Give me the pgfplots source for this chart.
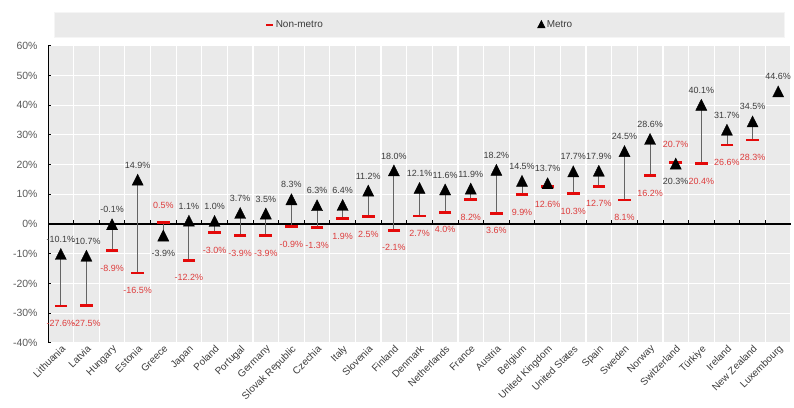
\documentclass[border=0pt]{standalone}
\usepackage{fontspec}
\setmainfont{Liberation Sans}
\usepackage{pgfplots}
\usepackage{pgfplotstable}
\pgfplotsset{compat=1.18}

\definecolor{panel}{RGB}{234,234,234}
\definecolor{legframe}{RGB}{245,245,245}
\definecolor{dashred}{RGB}{228,10,10}
\definecolor{labred}{RGB}{222,60,60}
\definecolor{labdark}{RGB}{60,60,60}
\definecolor{tickgray}{RGB}{89,89,89}
\definecolor{stem}{RGB}{100,100,100}

% growth by country: non-metro and metro regions (%), label anchors
\pgfplotstableread{
x  non    metro  ma     na
0  -27.6  -10.1  south  north
1  -27.5  -10.7  south  north
2  -8.9   -0.1   south  north
3  -16.5  14.9   south  north
4  0.5    -3.9   north  south
5  -12.2  1.1    south  north
6  -3.0   1.0    south  north
7  -3.9   3.7    south  north
8  -3.9   3.5    south  north
9  -0.9   8.3    south  north
10 -1.3   6.3    south  north
11 1.9    6.4    south  north
12 2.5    11.2   south  north
13 -2.1   18.0   south  north
14 2.7    12.1   south  north
15 4.0    11.6   south  north
16 8.2    11.9   south  north
17 3.6    18.2   south  north
18 9.9    14.5   south  north
19 12.6   13.7   south  north
20 10.3   17.7   south  north
21 12.7   17.9   south  north
22 8.1    24.5   south  north
23 16.2   28.6   south  north
24 20.7   20.3   north  south
25 20.4   40.1   south  north
26 26.6   31.7   south  north
27 28.3   34.5   south  north
28 nan    44.6   south  north
}\gap

\begin{document}
\begin{tikzpicture}
\begin{axis}[
  scale only axis,
  width=742.7bp, height=297bp,
  xmin=-0.5, xmax=28.5, ymin=-40, ymax=60,
  /pgf/number format/assume math mode=true,
  axis background/.style={fill=panel},
  axis line style={draw=none},
  xtick={0,...,28},
  xticklabels={Lithuania, Latvia, Hungary, Estonia, Greece, Japan, Poland, Portugal, Germany, Slovak Republic, Czechia, Italy, Slovenia, Finland, Denmark, Netherlands, France, Austria, Belgium, United Kingdom, United States, Spain, Sweden, Norway, Switzerland, Türkiye, Ireland, New Zealand, Luxembourg},
  xticklabel style={rotate=45, anchor=north east, font=\fontsize{10}{12}\selectfont, text=labdark, inner sep=1bp},
  xtick style={draw=none},
  minor xtick={-0.5,0.5,...,28.5},
  minor x tick style={draw=none},
  xminorgrids,
  ytick={-40,-30,...,60},
  yticklabel={\pgfmathprintnumber{\tick}\%},
  yticklabel style={font=\fontsize{10.5}{12}\selectfont, text=tickgray, xshift=-7bp},
  ytick pos=left,
  ytick style={black, line width=0.8bp},
  major tick length=3bp,
  ymajorgrids,
  major grid style={white, line width=1.2bp},
  minor grid style={white, line width=1.2bp},
  legend columns=2,
  legend style={at={(0.5,1)}, anchor=south, yshift=8bp,
    fill=panel, draw=legframe, line width=0.8bp,
    inner xsep=210.5bp, inner ysep=7bp,
    font=\fontsize{10}{12}\selectfont, text=labdark,
    nodes={inner sep=1.5bp},
    /tikz/every even column/.append style={column sep=213bp}},
]
% axis line and zero line with category ticks
\draw[black, line width=1.2bp] (axis cs:-0.5,-40) -- (axis cs:-0.5,60);
\draw[black, line width=1.3bp] (axis cs:-0.5,0) -- (axis cs:28.5,0);
\pgfplotsinvokeforeach{0.5,1.5,...,27.5}{
  \draw[black, line width=0.8bp] (axis cs:#1,0) -- ++(0bp,4bp);
}

\addlegendimage{legend image code/.code={\draw[dashred, line width=2bp] (0bp,0bp) -- (7bp,0bp);}}
\addlegendentry{Non-metro}
\addlegendimage{legend image code/.code={\fill[black] (0bp,-3bp) -- (7bp,-3bp) -- (3.5bp,3.8bp) -- cycle;}}
\addlegendentry{Metro}

% stems joining metro and non-metro values
\addplot[forget plot, draw=none, no marks, restrict x to domain=0:27,
  error bars/.cd, y dir=minus, y explicit, error mark=none,
  error mark options={draw=none},
  error bar style={draw=stem, line width=0.9bp}]
  table[x=x, y=metro, y error minus expr=\thisrow{metro}-\thisrow{non}] {\gap};

% non-metro dashes
\addplot[forget plot, dashred, line width=2.8bp, only marks, mark=-, mark size=6.3bp,
  mark options={solid, draw=dashred, line width=2.8bp},
  point meta=explicit symbolic,
  visualization depends on={rawy\as\rawy},
  nodes near coords={\pgfmathprintnumber[fixed, fixed zerofill, precision=1]{\rawy}\%},
  every node near coord/.append style={anchor=\pgfplotspointmeta, inner ysep=13bp, inner xsep=0pt,
    text=labred, font=\fontsize{9}{10}\selectfont}]
  table[x=x, y=non, meta=na] {\gap};

% metro triangles
\addplot[forget plot, black, only marks, mark=triangle*, mark size=6.4bp,
  mark options={solid, fill=black, draw=black, yshift=-1.8bp, yscale=1.15},
  point meta=explicit symbolic,
  visualization depends on={rawy\as\rawy},
  nodes near coords={\pgfmathprintnumber[fixed, fixed zerofill, precision=1]{\rawy}\%},
  every node near coord/.append style={anchor=\pgfplotspointmeta, inner ysep=13bp, inner xsep=0pt,
    text=labdark, font=\fontsize{9}{10}\selectfont}]
  table[x=x, y=metro, meta=ma] {\gap};
\end{axis}
\pgfresetboundingbox
\path[use as bounding box] (-48bp,-64.3bp) rectangle (745.7bp,342.7bp);
\end{tikzpicture}
\end{document}
